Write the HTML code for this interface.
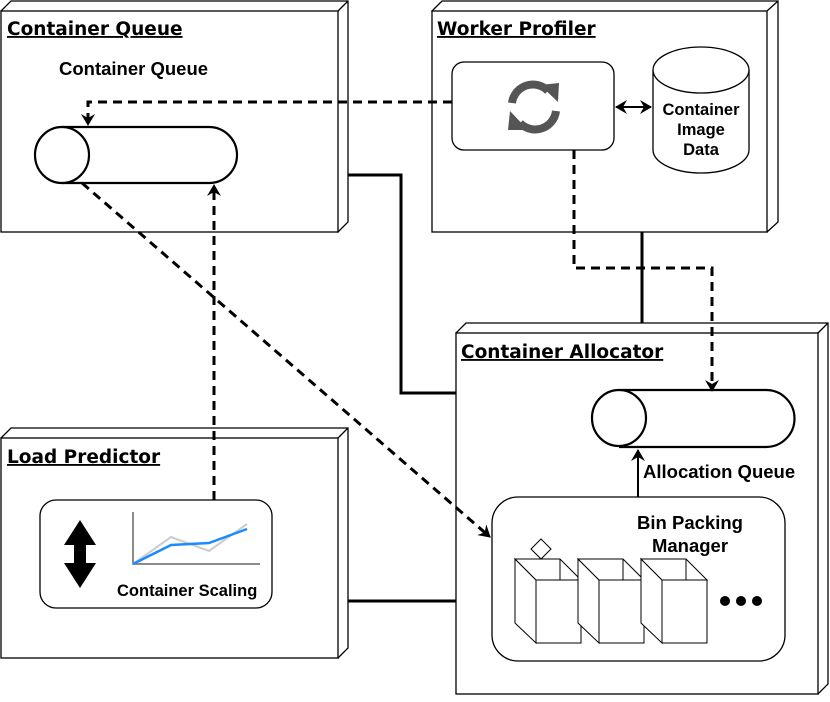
<!DOCTYPE html>
<html><head><style>
body{margin:0;background:#fff}
svg text{font-family:"Liberation Sans",sans-serif;font-weight:bold;fill:#000}
.t{font-family:"DejaVu Sans",sans-serif!important;font-size:18.5px;text-decoration:underline}
</style></head><body>
<svg width="830" height="697" viewBox="0 0 830 697" xmlns="http://www.w3.org/2000/svg">
<defs>
<marker id="a" markerWidth="14" markerHeight="14" refX="11" refY="7" orient="auto" markerUnits="userSpaceOnUse"><path d="M0,0 L12,7 L0,14 L4,7 Z" fill="#000"/></marker>
<marker id="b" markerWidth="14" markerHeight="14" refX="1" refY="7" orient="auto" markerUnits="userSpaceOnUse"><path d="M12,0 L0,7 L12,14 L8,7 Z" fill="#000"/></marker>
</defs>
<g fill="#fff" stroke="#000" stroke-width="1.3">
<path d="M1,11 L11,1 L348,1 L348,222 L338,232 Z M338,11 L348,1"/>
<rect x="1" y="11" width="337" height="221"/>
<path d="M432,11 L442,1 L778,1 L778,222 L767,232 Z"/><path d="M767,11 L778,1"/>
<rect x="432" y="11" width="335" height="221"/>
<path d="M456,333 L466,323 L828,323 L828,684 L818,694 Z"/><path d="M818,333 L828,323"/>
<rect x="456" y="333" width="362" height="361"/>
<path d="M1,438 L11,428 L348,428 L348,648 L338,658 Z"/><path d="M338,438 L348,428"/>
<rect x="1" y="438" width="337" height="220"/>
</g>
<text class="t" x="7" y="35">Container Queue</text>
<text class="t" x="437" y="35">Worker Profiler</text>
<text class="t" x="461" y="358">Container Allocator</text>
<text class="t" x="7" y="463">Load Predictor</text>
<text x="59" y="75" font-size="18.5">Container Queue</text>
<g fill="#fff" stroke="#000" stroke-width="2.2">
<path d="M62,127 L209,127 A28,28 0 0 1 209,183 L62,183"/>
<ellipse cx="62" cy="155" rx="27" ry="28"/>
<path d="M619,390 L766,390 A28,28 0 0 1 766,447 L619,447"/>
<ellipse cx="619" cy="418" rx="27" ry="28"/>
</g>
<g fill="#fff" stroke="#000" stroke-width="1.3">
<rect x="452" y="62" width="162" height="88" rx="12"/>
<path d="M653,70 L653,150 A48,23 0 0 0 749,150 L749,70"/>
<ellipse cx="701" cy="70" rx="48" ry="23"/>
<rect x="492" y="497" width="293" height="164" rx="26"/>
<rect x="40" y="500" width="232" height="108" rx="16"/>
</g>
<text x="701" y="115" font-size="16.5" text-anchor="middle">Container</text>
<text x="701" y="135" font-size="16.5" text-anchor="middle">Image</text>
<text x="701" y="155" font-size="16.5" text-anchor="middle">Data</text>
<g fill="none" stroke="#555" stroke-width="8">
<path d="M512,103 A21,21 0 0 1 548,91"/><path d="M556,111 A21,21 0 0 1 520,123"/>
</g>
<path d="M540,85 L559,83 L558,102 Z M528,130 L508,130 L510,111 Z" fill="#555"/>
<text x="690" y="529" font-size="18.5" text-anchor="middle">Bin Packing</text>
<text x="690" y="552" font-size="18.5" text-anchor="middle">Manager</text>
<text x="643" y="478" font-size="18.5">Allocation Queue</text>
<text x="117" y="596" font-size="16.5">Container Scaling</text>
<g fill="#fff" stroke="#000" stroke-width="1">
<g id="bin"><path d="M515,559 L515,623 L536,643 L536,580 Z"/><path d="M515,559 L560,559 L581,580 L536,580 Z"/><line x1="560" y1="559" x2="560" y2="580"/><rect x="536" y="580" width="45" height="63"/></g>
<use href="#bin" x="63"/><use href="#bin" x="126"/>
<path d="M541,539 L551,549 L541,559 L531,549 Z"/>
</g>
<circle cx="725" cy="601" r="5"/><circle cx="741" cy="601" r="5"/><circle cx="757" cy="601" r="5"/>
<path d="M133,512 L133,564 L260,564" fill="none" stroke="#666" stroke-width="1.5"/>
<path d="M133,564 L171,537 L209,551 L247,524" fill="none" stroke="#ccc" stroke-width="2"/>
<path d="M133,564 L171,545 L209,543 L247,529" fill="none" stroke="#1a8cff" stroke-width="2.5"/>
<path d="M80,520 L96,545 L86,545 L86,563 L96,563 L80,588 L64,563 L74,563 L74,545 L64,545 Z" fill="#000"/>
<g fill="none" stroke="#000" stroke-width="3">
<path d="M348,175 L401,175 L401,393 L456,393"/>
<path d="M348,601 L456,601"/>
<path d="M642,232 L642,323"/>
</g>
<g fill="none" stroke="#000" stroke-width="3" stroke-dasharray="9,6">
<path d="M452,102 L88,102 L88,125" marker-end="url(#a)"/>
<path d="M214,500 L214,185" marker-end="url(#a)"/>
<path d="M82,183 L490,537" marker-end="url(#a)"/>
<path d="M574,150 L574,268 L712,268 L712,391" marker-end="url(#a)"/>
</g>
<g fill="none" stroke="#000" stroke-width="2">
<path d="M638,497 L638,450" marker-end="url(#a)"/>
<path d="M616,107 L651,107" marker-start="url(#b)" marker-end="url(#a)"/>
</g>
</svg>
</body></html>
